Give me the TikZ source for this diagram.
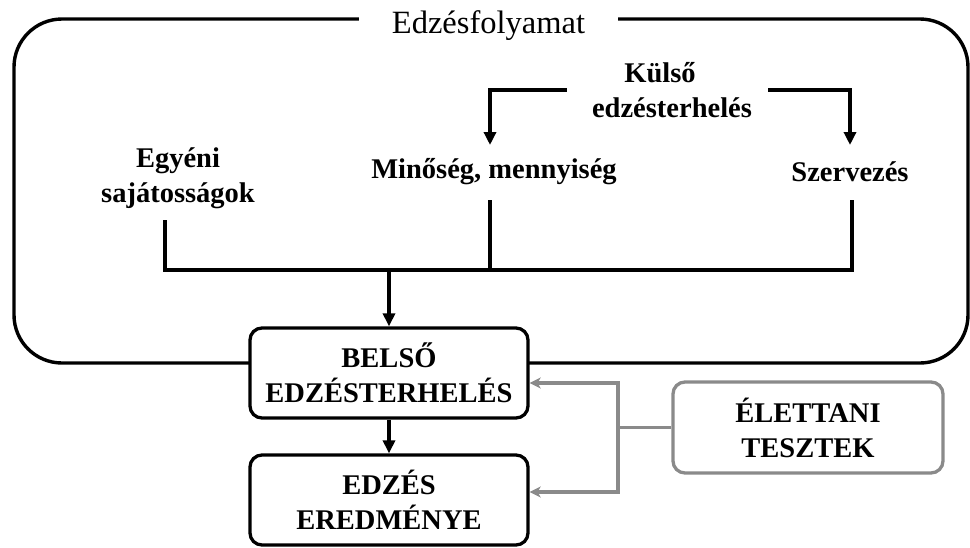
\documentclass[tikz,border=0pt]{standalone}
\usepackage{fontspec}
\setmainfont{Liberation Serif}
\usetikzlibrary{arrows.meta}
\definecolor{testgray}{HTML}{8A8A8A}
\tikzset{
  lbl/.style={font=\fontsize{28.5}{35}\selectfont\bfseries, align=center, inner sep=0pt},
  blackbox/.style={draw, line width=3.3pt, rounded corners=12pt, fill=white,
    minimum width=278pt, minimum height=90pt, align=center,
    font=\fontsize{28.5}{35}\selectfont\bfseries},
  graybox/.style={blackbox, draw=testgray},
  link/.style={line width=3.3pt},
  arr/.style={line width=3.3pt, -{Triangle[length=13pt,width=12pt]}},
  garr/.style={line width=3.3pt, draw=testgray, -{Stealth[length=11pt,width=11pt,inset=3pt]}, color=testgray},
}
\begin{document}
\begin{tikzpicture}[x=1pt,y=-1pt]
\useasboundingbox (0,0) rectangle (970,547);

% outer process frame with its title
\node[draw, line width=3.4pt, rounded corners=48pt, minimum width=954pt,
      minimum height=344pt, inner sep=0pt] (frame) at (491,191) {};
\node[fill=white, inner xsep=33pt, inner ysep=2pt, anchor=base,
      font=\fontsize{32.5}{38}\selectfont] (title) at (488.5,33) {Edzésfolyamat};

% labels inside the frame
\node[lbl] (kulso) at (672,90) {Külső\hspace*{24pt}\\edzésterhelés};
\node[lbl] (egyeni) at (178,178) {Egyéni\\sajátosságok};
\node[lbl] (minoseg) at (494,172) {Minőség, mennyiség};
\node[lbl] (szervezes) at (850,172) {Szervezés};

% result boxes
\node[blackbox] (belso) at (389,373) {BELSŐ\\EDZÉSTERHELÉS};
\node[blackbox] (eredmeny) at (389,500) {EDZÉS\\EREDMÉNYE};
\node[graybox, minimum width=270pt, minimum height=91pt] (elettani) at (808,427.5) {ÉLETTANI\\TESZTEK};

% branch points
\coordinate (tipL) at (490,145);
\coordinate (tipR) at (850,145);
\coordinate (footL) at (165,220);
\coordinate (footM) at (490,200);
\coordinate (footR) at (852,200);
\coordinate (busL) at (165,270);
\coordinate (busR) at (852,270);
\coordinate (split) at (618,427.5);

% external load splits into two
\draw[arr] ([xshift=-25pt]kulso.west) -| (tipL);
\draw[arr] ([xshift=16pt]kulso.east) -| (tipR);

% three factors join into the bus
\draw[link] (footL) -- (busL) -- (busR) -- (footR);
\draw[link] (footM) -- (footM |- busL);
\draw[arr] (belso.north |- busL) -- (belso.north);
\draw[arr] (belso.south) -- (eredmeny.north);

% tests feed back into both boxes
\draw[garr, -] (elettani.west) -- (split);
\draw[garr] (split) |- ([yshift=-10pt]belso.east);
\draw[garr] (split) |- ([yshift=8pt]eredmeny.east);
\end{tikzpicture}
\end{document}
